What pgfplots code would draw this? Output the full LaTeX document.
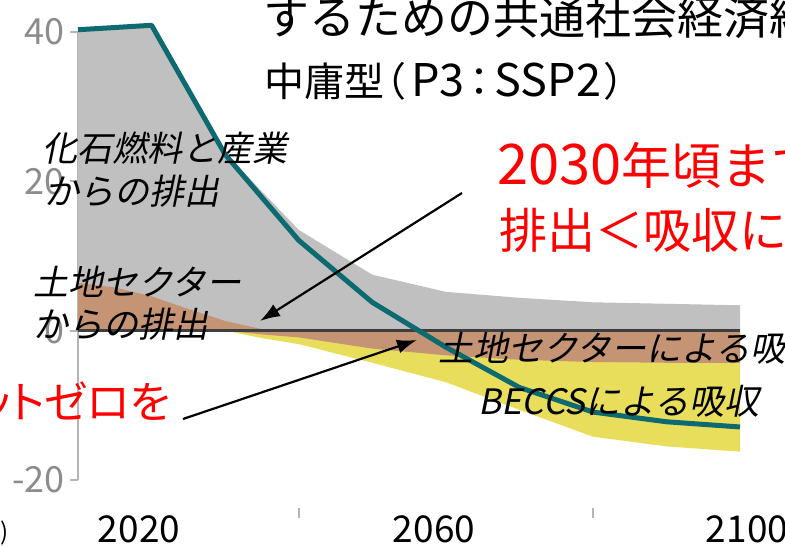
\documentclass[border=0pt]{standalone}
\usepackage{fontspec}
\usepackage{pgfplots}
\pgfplotsset{compat=1.18}
\usetikzlibrary{arrows.meta}

\setmainfont{Noto Sans CJK JP}
\newfontfamily\jp{Noto Sans CJK JP}
\newfontfamily\jpp[RawFeature=+palt]{Noto Sans CJK JP}
\newfontfamily\jpit[FakeSlant=0.2]{Noto Sans CJK JP}

\definecolor{ffgray}{HTML}{C0C0C0}
\definecolor{landbrown}{HTML}{C49474}
\definecolor{beccsyellow}{HTML}{E8DE5C}
\definecolor{netteal}{HTML}{0C6A70}
\definecolor{zeroline}{HTML}{3E3E3E}
\definecolor{axisgray}{HTML}{B4B4B4}
\definecolor{tickgray}{HTML}{8C8C8C}

\begin{document}
\begin{tikzpicture}
\useasboundingbox (0,0) rectangle (785bp,546bp);
\clip (0,0) rectangle (785bp,546bp);

\begin{axis}[
  at={(78bp,66bp)}, anchor=south west,
  scale only axis, width=662bp, height=448bp,
  xmin=2010, xmax=2100, ymin=-20, ymax=40,
  axis x line=none, axis y line=left,
  y axis line style={draw=axisgray, line width=2.4bp, -},
  ytick={-20,0,20,40}, yticklabels={-20,0,20,40},
  tick align=outside, major tick length=8bp,
  ytick style={draw=axisgray, line width=2bp},
  yticklabel style={font=\jp\fontsize{36bp}{36bp}\selectfont, text=tickgray, xshift=-2bp},
  clip=false,
]
% fossil fuel and industry emissions (stacked on land-sector emissions)
\addplot[fill=ffgray, draw=none] coordinates {
  (2010,40.3) (2020,40.9) (2030,23.8) (2040,13.5) (2050,7.5)
  (2060,5.2) (2070,4.4) (2080,3.8) (2090,3.6) (2100,3.4)
  (2100,0) (2010,0)} -- cycle;
% land-sector emissions
\addplot[fill=landbrown, draw=none] coordinates {
  (2010,6.4) (2015,5.8) (2020,4.6) (2025,2.9) (2030,1.3) (2035,0.2) (2040,0)
  (2010,0)} -- cycle;
% BECCS removals (cumulative lower edge)
\addplot[fill=beccsyellow, draw=none] coordinates {
  (2030,0) (2035,-1.0) (2040,-1.8) (2050,-4.3) (2060,-6.9)
  (2070,-10.6) (2080,-14.2) (2090,-15.5) (2100,-16.2) (2100,0)} -- cycle;
% land-sector removals
\addplot[fill=landbrown, draw=none] coordinates {
  (2030,0) (2035,-0.5) (2040,-0.9) (2050,-2.4) (2060,-3.3)
  (2070,-3.9) (2080,-4.2) (2090,-4.3) (2100,-4.3) (2100,0)} -- cycle;
% zero line
\addplot[draw=zeroline, line width=3.6bp] coordinates {(2010,0) (2100,0)};
% net emissions
\addplot[draw=netteal, line width=5bp, line join=round] coordinates {
  (2010,40.3) (2020,40.9) (2030,23.6) (2040,12.1) (2050,3.8)
  (2060,-2.2) (2070,-7.6) (2080,-10.9) (2090,-12.2) (2100,-12.9)};
% minor year ticks
\draw[axisgray, line width=2bp] (axis cs:2040,-23.75) -- (axis cs:2040,-25.1);
\draw[axisgray, line width=2bp] (axis cs:2080,-23.75) -- (axis cs:2080,-25.1);
\end{axis}

% arrows
\draw[line width=2.2bp, -{Latex[length=20bp,width=14bp]}] (462bp,353bp) -- (260bp,225bp);
\draw[line width=2.2bp, -{Latex[length=20bp,width=14bp]}] (183bp,127bp) -- (417bp,206bp);

% title
\node[anchor=base west, inner sep=0pt] at (263bp,511bp)
  {\jp\fontsize{46bp}{46bp}\selectfont するための共通社会経済経路};
\node[anchor=base west, inner sep=0pt] at (264bp,449bp)
  {\jpp\fontsize{40bp}{40bp}\selectfont 中庸型\kern1bp（\kern6bp{\fontsize{45bp}{45bp}\selectfont P3}\kern5bp：\kern5bp{\fontsize{45bp}{45bp}\selectfont SSP2}\kern4bp）};

% red notes
\node[anchor=base west, inner sep=0pt, text=red] at (497bp,361bp)
  {\jp\fontsize{50bp}{50bp}\selectfont {\fontsize{56bp}{56bp}\selectfont 2030}年頃までに};
\node[anchor=base west, inner sep=0pt, text=red] at (499bp,297bp)
  {\jp\fontsize{48bp}{48bp}\selectfont 排出＜吸収に};
\node[anchor=base east, inner sep=0pt, text=red] at (171bp,127bp)
  {\jpp\fontsize{44bp}{44bp}\selectfont ットゼロを};

% component labels
\begin{scope}[every node/.style={anchor=base west, inner sep=0pt,
    font=\jpit\fontsize{35bp}{35bp}\selectfont}]
\node at (42bp,384bp) {化石燃料と産業};
\node at (44bp,341bp) {からの排出};
\node at (33bp,250bp) {土地セクター};
\node at (33bp,208bp) {からの排出};
\node at (438bp,184bp) {土地セクターによる吸収};
\node at (478bp,131bp) {BECCSによる吸収};
\end{scope}

% year labels
\begin{scope}[every node/.style={anchor=base, inner sep=0pt,
    font=\jp\fontsize{37bp}{37bp}\selectfont}]
\node at (139bp,4bp) {2020};
\node at (434bp,4bp) {2060};
\node at (747bp,4bp) {2100};
\end{scope}
\node[anchor=base west, inner sep=0pt] at (0bp,6bp)
  {\jp\fontsize{24bp}{24bp}\selectfont )};
\end{tikzpicture}
\end{document}
